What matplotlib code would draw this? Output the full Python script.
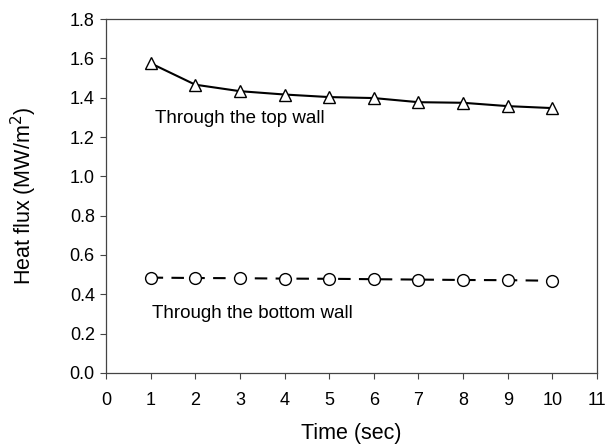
import matplotlib
matplotlib.use("Agg")
import matplotlib.pyplot as plt

plt.rcParams['font.family'] = ['Liberation Sans', 'DejaVu Sans']

time = [1, 2, 3, 4, 5, 6, 7, 8, 9, 10]
top_wall = [1.575, 1.466, 1.433, 1.416, 1.403, 1.398, 1.377, 1.374, 1.357, 1.347]
bottom_wall = [0.485, 0.483, 0.482, 0.480, 0.479, 0.477, 0.475, 0.473, 0.472, 0.469]
xticks = list(range(0, 12))
yticks = [0.0, 0.2, 0.4, 0.6, 0.8, 1.0, 1.2, 1.4, 1.6, 1.8]

fig = plt.figure(figsize=(6.07, 4.45), dpi=100)
ax = fig.add_axes([0.1746, 0.1618, 0.8089, 0.7955])

ax.plot(time, top_wall, color='black', lw=1.5, ls='-', marker='^', ms=9,
        mfc='white', mec='black', mew=1.0, zorder=3)
ax.plot(time, bottom_wall, color='black', lw=1.5, ls=(0, (6, 4)), marker='o', ms=8.5,
        mfc='white', mec='black', mew=1.0, zorder=3)

ax.text(1.1, 1.269, 'Through the top wall', fontsize=13.5, va='baseline', ha='left')
ax.text(1.03, 0.279, 'Through the bottom wall', fontsize=13.5, va='baseline', ha='left')

ax.set_xlim(0, 11)
ax.set_ylim(0, 1.8)
ax.set_xticks(xticks)
ax.set_xticklabels([str(t) for t in xticks])
ax.set_yticks(yticks)
ax.set_yticklabels([f'{v:.1f}' for v in yticks])
ax.tick_params(direction='out', length=4, width=0.8, color='#444444', labelsize=13)
ax.tick_params(axis='x', pad=10)
ax.tick_params(axis='y', pad=4)
for s in ax.spines.values():
    s.set_color('#444444')
    s.set_linewidth(0.9)

ax.set_xlabel('Time (sec)', fontsize=15.5, labelpad=10)
ax.set_ylabel('Heat flux (MW/m$^2$)', fontsize=15.5, labelpad=22)

fig.savefig('out.png', dpi=100)
